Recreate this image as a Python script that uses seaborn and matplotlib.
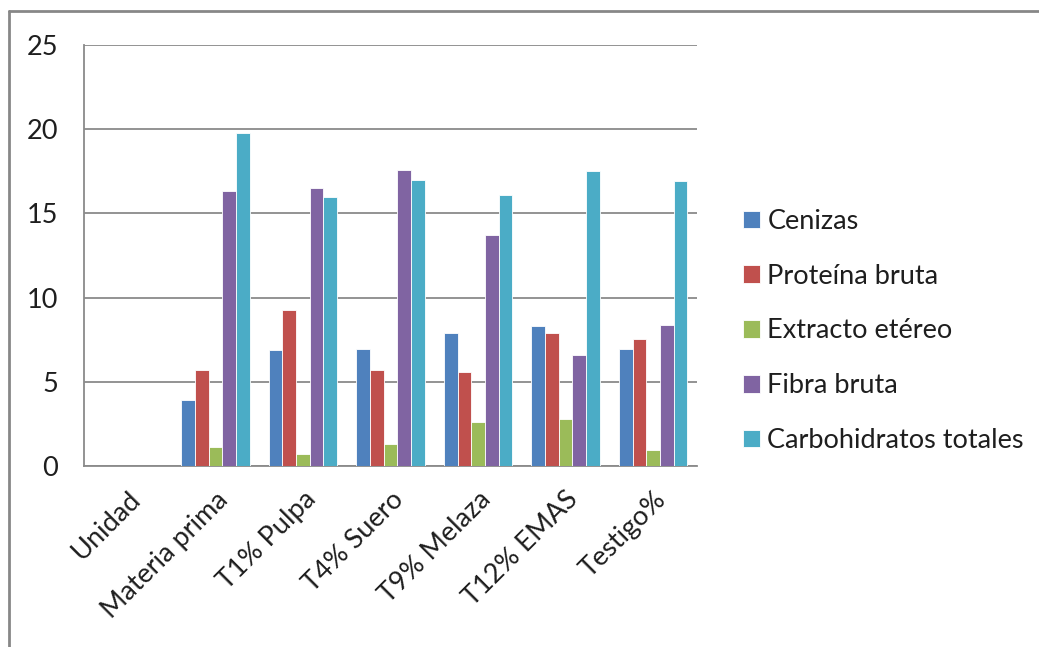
import matplotlib
matplotlib.use("Agg")
import matplotlib.pyplot as plt
import seaborn as sns
import pandas as pd
from matplotlib.lines import Line2D

categories = ["Unidad", "Materia prima", "T1% Pulpa", "T4% Suero", "T9% Melaza", "T12% EMAS", "Testigo%"]
series = ["Cenizas", "Proteína bruta", "Extracto etéreo", "Fibra bruta", "Carbohidratos totales"]
cenizas = [None, 3.9, 6.87, 6.95, 7.88, 8.29, 6.95]
proteina = [None, 5.68, 9.24, 5.68, 5.58, 7.88, 7.52]
extracto = [None, 1.11, 0.69, 1.29, 2.63, 2.79, 0.93]
fibra = [None, 16.35, 16.5, 17.6, 13.7, 6.61, 8.39]
carbo = [None, 19.8, 16.0, 17.0, 16.07, 17.52, 16.92]
colors = ["#4F81BD", "#C0504D", "#9BBB59", "#8064A2", "#4BACC6"]

rows = []
for s, vals in zip(series, [cenizas, proteina, extracto, fibra, carbo]):
    for c, v in zip(categories, vals):
        if v is not None:
            rows.append({"cat": c, "serie": s, "val": v})
df = pd.DataFrame(rows)

sns.set_style("white")
plt.rcParams["font.family"] = ["Lato", "DejaVu Sans"]
TXT = "#1e1e1e"
GRID = "#8a8a8a"
FS = 19.5

fig = plt.figure(figsize=(10.39, 6.47), dpi=100)
ax = fig.add_axes([84 / 1039, 1 - 466 / 647, (697 - 84) / 1039, (466 - 45) / 647])

sns.barplot(data=df, x="cat", y="val", hue="serie", order=categories, hue_order=series,
            palette=colors, saturation=1, width=0.78, errorbar=None,
            edgecolor="white", linewidth=0.6, ax=ax, zorder=3)

ax.set_ylim(0, 25)
ax.set_xlim(-0.5, len(categories) - 0.5)
ax.set_yticks([0, 5, 10, 15, 20, 25])
ax.yaxis.grid(True, color=GRID, linewidth=1.3)
ax.set_axisbelow(True)
ax.set_xlabel("")
ax.set_ylabel("")
for side in ["top", "right"]:
    ax.spines[side].set_visible(False)
for side in ["left", "bottom"]:
    ax.spines[side].set_color(GRID)
    ax.spines[side].set_linewidth(1.3)

ax.tick_params(axis="y", which="major", length=6.5, width=1.2, color=GRID,
               labelsize=FS, labelcolor=TXT, pad=12)
ax.set_xticks(range(len(categories)))
ax.set_xticklabels(categories, rotation=45, ha="right", rotation_mode="anchor",
                   fontsize=FS, color=TXT)
ax.tick_params(axis="x", which="major", length=0, pad=15)
ax.set_xticks([i - 0.5 for i in range(len(categories) + 1)], minor=True)
ax.tick_params(axis="x", which="minor", length=6.5, width=1.2, color=GRID)

handles, labels = ax.get_legend_handles_labels()
ax.legend_.remove()
fig.legend(handles, labels, loc="center left", bbox_to_anchor=(743 / 1039, 1 - 331 / 647),
           frameon=False, fontsize=FS, labelcolor=TXT, handlelength=0.62, handleheight=0.62,
           handletextpad=0.28, labelspacing=1.1, borderaxespad=0, borderpad=0)

fig.add_artist(Line2D([9 / 1039, 9 / 1039], [0, 1 - 11 / 647], transform=fig.transFigure,
                      color="#878787", linewidth=2))
fig.add_artist(Line2D([9 / 1039, 1], [1 - 11 / 647, 1 - 11 / 647], transform=fig.transFigure,
                      color="#878787", linewidth=2))

fig.savefig("out.png", dpi=100, facecolor="white")
